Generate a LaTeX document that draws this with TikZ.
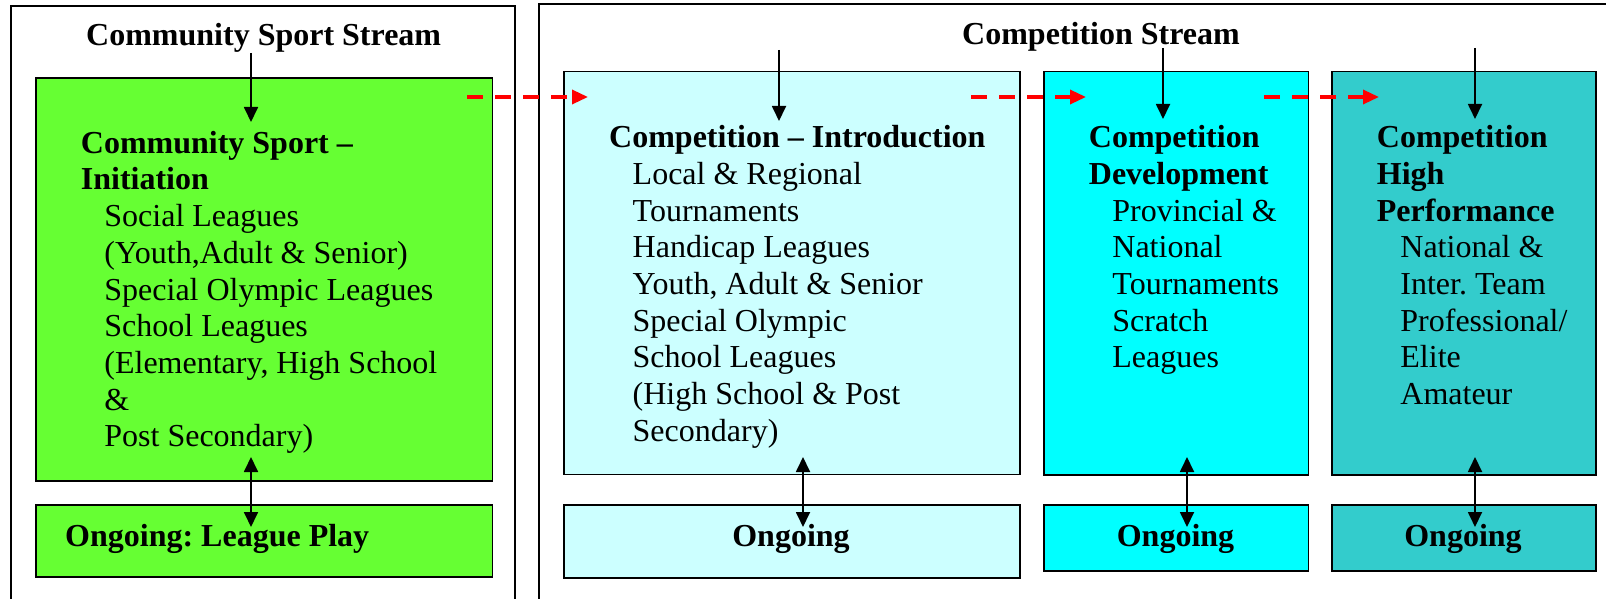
\documentclass[tikz,border=0pt]{standalone}
\usepackage{fontspec}
\setmainfont{Liberation Serif}
\usetikzlibrary{arrows.meta}
\definecolor{cgreen}{RGB}{102,255,51}
\definecolor{clight}{RGB}{204,255,255}
\definecolor{ccyan}{RGB}{0,255,255}
\definecolor{cteal}{RGB}{51,204,204}
\definecolor{cred}{RGB}{255,0,0}
\newcommand\bl[1]{\hbox{\bfseries #1}}
\newcommand\il[1]{\hbox{\hskip23.5pt #1}}
\frenchspacing
\begin{document}
\begin{tikzpicture}[x=1pt,y=-1pt,
  outer/.style={draw=black,line width=1.4pt},
  box/.style={draw=black,line width=1.6pt,anchor=north west,inner sep=0pt},
  txt/.style={anchor=base west,inner sep=0pt,font=\fontsize{32}{36.7}\selectfont},
  ttl/.style={anchor=base west,inner sep=0pt,font=\fontsize{32}{36.7}\selectfont\bfseries},
  otxt/.style={anchor=base,inner sep=0pt,font=\fontsize{32}{36.7}\selectfont\bfseries},
  arr/.style={draw=black,line width=1.8pt,-{Triangle[length=15pt,width=14pt]}},
  darr/.style={draw=black,line width=1.8pt,{Triangle[length=15pt,width=14pt]}-{Triangle[length=15pt,width=14pt]}},
  rarr/.style={draw=cred,line width=3.3pt,dash pattern=on 16pt off 12pt,-{Triangle[length=16pt,width=14pt]}}]
\path[use as bounding box] (0,0) rectangle (1606,599);
\clip (0,0) rectangle (1606,599);
% outer stream frames
\draw[outer] (11,6) rectangle (515,640);
\draw[outer] (539,4) rectangle (1640,640);
% titles
\node[ttl] (t1) at (86,46) {Community Sport Stream};
\node[ttl] (t2) at (962,45) {Competition Stream};
% main boxes
\node[box,fill=cgreen,minimum width=456.7pt,minimum height=402.5pt] (b1) at (35,77.5) {};
\node[box,fill=clight,minimum width=456pt,minimum height=403pt] (b2) at (563,70.7) {};
\node[box,fill=ccyan,minimum width=264.4pt,minimum height=403.3pt] (b3) at (1043.3,70.7) {};
\node[box,fill=cteal,minimum width=264pt,minimum height=403.3pt] (b4) at (1331,70.7) {};
% ongoing boxes
\node[box,fill=cgreen,minimum width=456.7pt,minimum height=72pt] (o1) at (35,504) {};
\node[box,fill=clight,minimum width=456pt,minimum height=73pt] (o2) at (563,504) {};
\node[box,fill=ccyan,minimum width=264.4pt,minimum height=66pt] (o3) at (1043.3,504) {};
\node[box,fill=cteal,minimum width=264pt,minimum height=66pt] (o4) at (1331,504) {};
% box texts
\node[txt] (x1) at (80.7,153.3) {\vtop{\bl{Community Sport –}\bl{Initiation}\il{Social Leagues}\il{(Youth,Adult \& Senior)}\il{Special Olympic Leagues}\il{School Leagues}\il{(Elementary, High School}\il{\&}\il{Post Secondary)}}};
\node[txt] (x2) at (609,147.7) {\vtop{\bl{Competition – Introduction}\il{Local \& Regional}\il{Tournaments}\il{Handicap Leagues}\il{Youth, Adult \& Senior}\il{Special Olympic}\il{School Leagues}\il{(High School \& Post}\il{Secondary)}}};
\node[txt] (x3) at (1088.7,147.7) {\vtop{\bl{Competition}\bl{Development}\il{Provincial \&}\il{National}\il{Tournaments}\il{Scratch}\il{Leagues}}};
\node[txt] (x4) at (1376.7,147.7) {\vtop{\bl{Competition}\bl{High}\bl{Performance}\il{National \&}\il{Inter. Team}\il{Professional/}\il{Elite}\il{Amateur}}};
% ongoing texts
\node[ttl] (y1) at (65,546) {Ongoing: League Play};
\node[otxt] (y2) at (791,546) {Ongoing};
\node[otxt] (y3) at (1175.5,546) {Ongoing};
\node[otxt] (y4) at (1463,546) {Ongoing};
% top arrows
\coordinate (a1s) at (251,53);   \coordinate (a1e) at (251,122);
\coordinate (a2s) at (779,50);   \coordinate (a2e) at (779,121);
\coordinate (a3s) at (1163,48);  \coordinate (a3e) at (1163,119);
\coordinate (a4s) at (1475,48);  \coordinate (a4e) at (1475,119);
\draw[arr] (a1s) -- (a1e);
\draw[arr] (a2s) -- (a2e);
\draw[arr] (a3s) -- (a3e);
\draw[arr] (a4s) -- (a4e);
% double arrows
\coordinate (d1s) at (251,457);  \coordinate (d1e) at (251,527);
\coordinate (d2s) at (803,457);  \coordinate (d2e) at (803,527);
\coordinate (d3s) at (1187,457); \coordinate (d3e) at (1187,527);
\coordinate (d4s) at (1475,457); \coordinate (d4e) at (1475,527);
\draw[darr] (d1s) -- (d1e);
\draw[darr] (d2s) -- (d2e);
\draw[darr] (d3s) -- (d3e);
\draw[darr] (d4s) -- (d4e);
% red dashed progression arrows
\coordinate (r1s) at (467,97);   \coordinate (r1e) at (588,97);
\coordinate (r2s) at (971,97);   \coordinate (r2e) at (1086,97);
\coordinate (r3s) at (1264,97);  \coordinate (r3e) at (1379,97);
\draw[rarr] (r1s) -- (r1e);
\draw[rarr] (r2s) -- (r2e);
\draw[rarr] (r3s) -- (r3e);
\end{tikzpicture}
\end{document}
